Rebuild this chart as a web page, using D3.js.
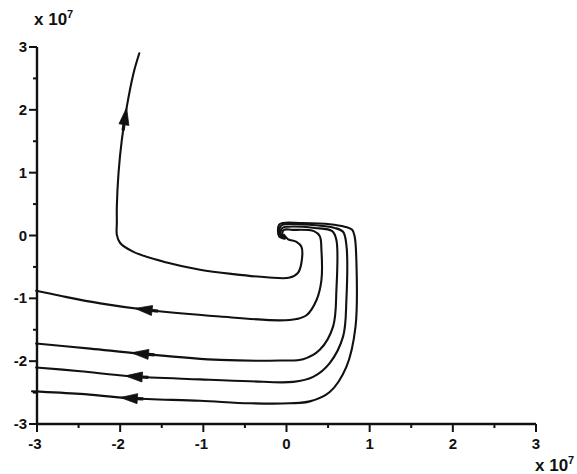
<!DOCTYPE html>
<html>
<head>
<meta charset="utf-8">
<script src="https://cdn.jsdelivr.net/npm/d3@7"></script>
<style>
  html, body { margin: 0; padding: 0; background: #fff; }
  svg { display: block; }
  .tick-label { font-family: "Liberation Sans", Arial, sans-serif; font-weight: bold; font-size: 15px; fill: #111; }
  .exp-label { font-family: "Liberation Sans", Arial, sans-serif; font-weight: bold; font-size: 17px; fill: #111; }
</style>
</head>
<body>
<svg id="chart" width="577" height="474"></svg>
<script>
// Axis ticks (units of 10^7)
const majorTicks = [-3, -2, -1, 0, 1, 2, 3];
const minorTicks = [-2.5, -1.5, -0.5, 0.5, 1.5, 2.5];

// Phase trajectories, each listed from the origin outward: [x, y] in units of 10^7
const trajectory1 = [
  [-0.03, 0.01], [0.02, -0.06], [0.12, -0.10], [0.18, -0.18], [0.18, -0.43], [0.14, -0.59],
  [0.04, -0.67], [-0.24, -0.665], [-0.64, -0.615], [-1.04, -0.545], [-1.44, -0.43],
  [-1.84, -0.26], [-2.00, -0.12], [-2.04, 0.01], [-2.04, 0.20], [-2.04, 0.46], [-2.02, 0.99],
  [-1.98, 1.52], [-1.92, 2.05], [-1.84, 2.58], [-1.77, 2.90]
];
const trajectory2 = [
  [-0.02, -0.04], [-0.05, 0.02], [-0.03, 0.09], [0.07, 0.09], [0.33, 0.07], [0.40, -0.01],
  [0.42, -0.23], [0.42, -0.71], [0.36, -1.03], [0.24, -1.27], [0.12, -1.33], [-0.08, -1.35],
  [-0.80, -1.29], [-1.64, -1.19], [-2.24, -1.08], [-2.72, -0.96], [-3.01, -0.88]
];
const trajectory3 = [
  [-0.02, -0.04], [-0.07, 0.02], [-0.05, 0.12], [0.02, 0.14], [0.34, 0.12], [0.55, 0.07],
  [0.60, -0.07], [0.60, -0.87], [0.56, -1.45], [0.40, -1.82], [0.20, -1.97], [-0.08, -1.99],
  [-0.80, -1.98], [-1.76, -1.88], [-2.36, -1.80], [-3.01, -1.72]
];
const trajectory4 = [
  [-0.02, -0.04], [-0.08, 0.02], [-0.07, 0.15], [-0.01, 0.18], [0.28, 0.17], [0.58, 0.12],
  [0.68, 0.06], [0.72, -0.15], [0.72, -1.03], [0.68, -1.61], [0.52, -2.03], [0.32, -2.25],
  [0.08, -2.33], [-0.44, -2.32], [-1.04, -2.29], [-1.88, -2.24], [-2.48, -2.16], [-3.01, -2.10]
];
const trajectory5 = [
  [-0.02, -0.05], [-0.09, -0.01], [-0.09, 0.17], [-0.04, 0.20], [0.16, 0.20], [0.52, 0.18],
  [0.70, 0.14], [0.79, 0.09], [0.82, -0.02], [0.84, -0.39], [0.83, -1.45], [0.72, -2.09],
  [0.52, -2.49], [0.28, -2.64], [0.04, -2.67], [-0.44, -2.67], [-1.04, -2.63], [-1.88, -2.59],
  [-2.48, -2.52], [-3.06, -2.48]
];
const trajectories = [trajectory1, trajectory2, trajectory3, trajectory4, trajectory5];

// Direction arrows: approximate tip position on each trajectory
const arrowTips = [[-1.93, 2.03], [-1.82, -1.17], [-1.86, -1.85], [-1.94, -2.24], [-2.00, -2.59]];

const svg = d3.select("#chart");
const x = d3.scaleLinear().domain([-3, 3]).range([37, 536]);
const y = d3.scaleLinear().domain([-3, 3]).range([424, 47]);

// Axes
const axisG = svg.append("g").attr("stroke", "#111").attr("fill", "none");
axisG.append("line").attr("x1", x(-3)).attr("x2", x(3)).attr("y1", y(-3)).attr("y2", y(-3)).attr("stroke-width", 2.4);
axisG.append("line").attr("x1", x(-3)).attr("x2", x(-3)).attr("y1", y(-3)).attr("y2", y(3)).attr("stroke-width", 2.4);

axisG.selectAll(".xmaj").data(majorTicks).join("line")
  .attr("x1", d => x(d)).attr("x2", d => x(d)).attr("y1", y(-3)).attr("y2", y(-3) + 8).attr("stroke-width", 2);
axisG.selectAll(".xmin").data(minorTicks).join("line")
  .attr("x1", d => x(d)).attr("x2", d => x(d)).attr("y1", y(-3)).attr("y2", y(-3) + 4).attr("stroke-width", 2);
axisG.selectAll(".ymaj").data(majorTicks).join("line")
  .attr("x1", x(-3) - 8).attr("x2", x(-3)).attr("y1", d => y(d)).attr("y2", d => y(d)).attr("stroke-width", 2);
axisG.selectAll(".ymin").data(minorTicks).join("line")
  .attr("x1", x(-3) - 4).attr("x2", x(-3)).attr("y1", d => y(d)).attr("y2", d => y(d)).attr("stroke-width", 2);

svg.selectAll(".xlab").data(majorTicks).join("text")
  .attr("class", "tick-label").attr("text-anchor", "middle")
  .attr("x", d => x(d) - (d < 0 ? 2 : 0)).attr("y", y(-3) + 25)
  .text(d => d);
svg.selectAll(".ylab").data(majorTicks).join("text")
  .attr("class", "tick-label").attr("text-anchor", "end")
  .attr("x", x(-3) - 10).attr("y", d => y(d) + 5)
  .text(d => d);

// Exponent labels
function expLabel(px, py) {
  const t = svg.append("text").attr("class", "exp-label").attr("x", px).attr("y", py);
  t.append("tspan").text("x 10");
  t.append("tspan").attr("dy", -7).attr("font-size", 11).text("7");
}
expLabel(34, 25);
expLabel(535, 471);

// Trajectories
const line = d3.line().x(d => x(d[0])).y(d => y(d[1])).curve(d3.curveCatmullRom.alpha(0.5));
const paths = svg.append("g").selectAll("path").data(trajectories).join("path")
  .attr("d", line).attr("fill", "none").attr("stroke", "#111")
  .attr("stroke-width", 2.1).attr("stroke-linejoin", "round").attr("stroke-linecap", "round");

// Arrowheads placed on each trajectory, pointing along the direction of motion
const arrowG = svg.append("g");
paths.each(function(_, i) {
  const node = this;
  const tip = arrowTips[i];
  const tx = x(tip[0]), ty = y(tip[1]);
  const L = node.getTotalLength();
  let best = 0, bd = Infinity;
  for (let s = 0; s <= L; s += 0.5) {
    const p = node.getPointAtLength(s);
    const dd = (p.x - tx) ** 2 + (p.y - ty) ** 2;
    if (dd < bd) { bd = dd; best = s; }
  }
  const headLen = 17, halfW = 5;
  const p = node.getPointAtLength(best);
  const b = node.getPointAtLength(Math.max(0, best - headLen));
  const tail = node.getPointAtLength(Math.max(0, best - headLen - 6));
  const dx = p.x - b.x, dy = p.y - b.y, len = Math.hypot(dx, dy) || 1;
  const nx = -dy / len, ny = dx / len;
  arrowG.append("path")
    .attr("d", `M${p.x},${p.y}L${b.x + nx * halfW},${b.y + ny * halfW}L${b.x - nx * halfW},${b.y - ny * halfW}Z`)
    .attr("fill", "#111").attr("stroke", "#111").attr("stroke-width", 0.8).attr("stroke-linejoin", "round");
  arrowG.append("line")
    .attr("x1", b.x).attr("y1", b.y).attr("x2", tail.x).attr("y2", tail.y)
    .attr("stroke", "#111").attr("stroke-width", 3.2);
});
</script>
</body>
</html>
